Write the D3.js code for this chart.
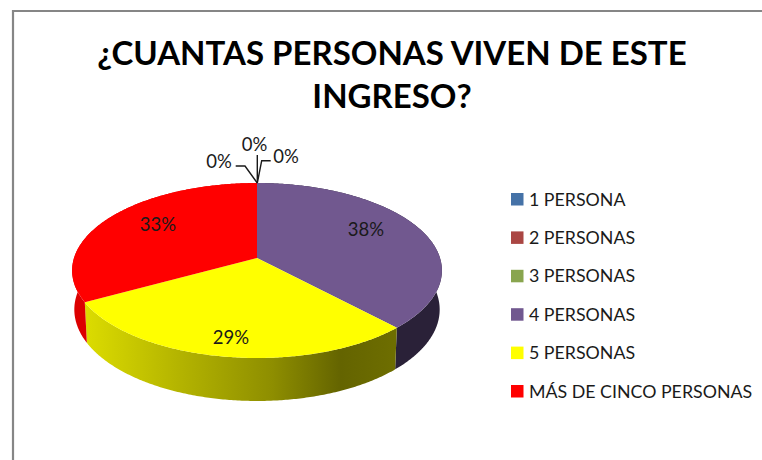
<!DOCTYPE html>
<html><head><meta charset="utf-8">
<script src="https://cdn.jsdelivr.net/npm/d3@7"></script>
<style>html,body{margin:0;padding:0;background:#fff}svg{display:block}text{font-family:Lato,"Open Sans",sans-serif}</style>
</head><body><svg id="c" width="762" height="460"></svg>
<script>
const titleLines = ["¿CUANTAS PERSONAS VIVEN DE ESTE", "INGRESO?"];
const categories = ["1 PERSONA","2 PERSONAS","3 PERSONAS","4 PERSONAS","5 PERSONAS","MÁS DE CINCO PERSONAS"];
const values = [0,0,0,38,29,33];
const colors = ["#4572a7","#aa4643","#89a54e","#71588f","#ffff00","#ff0000"];
const sideColors = ["#2a4466","#662a28","#53632f","#2a2138","url(#yellowSide)","#dc0000"];

const svg = d3.select("#c");
const defs = svg.append("defs");
const grad = defs.append("linearGradient").attr("id","yellowSide")
  .attr("gradientUnits","userSpaceOnUse").attr("x1",85).attr("x2",397).attr("y1",0).attr("y2",0);
[[0,"#dcdc00"],[0.3,"#b4b400"],[0.6,"#8e8e00"],[0.82,"#646400"],[1,"#6e6e00"]]
  .forEach(([o,c])=>grad.append("stop").attr("offset",o).attr("stop-color",c));

// frame
svg.append("path").attr("d","M13,460V11H762").attr("fill","none").attr("stroke","#868686").attr("stroke-width",2.2);

// title
svg.append("g").selectAll("text").data(titleLines).join("text")
  .attr("x",392).attr("y",(d,i)=>65+i*43).attr("text-anchor","middle")
  .attr("font-size",33).attr("font-weight",700).attr("fill","#000").text(d=>d);

// perspective pie projection
const hub = {x:257,y:258}, k = 1/7, a = 183, b = 85.7;
function proj(t){
  const X=Math.sin(t), Y=-Math.cos(t), w=1-k*Y;
  return {u:a*X/w, v:b*Y/w};
}
const topPt = t=>{const p=proj(t);return [hub.x+p.u, hub.y+p.v];};
const botPt = t=>{const p=proj(t);return [hub.x+p.u*0.988, hub.y+38.5+p.v*1.045];};
const line = d3.line();
const samples = (s,e)=>{const n=Math.max(2,Math.ceil((e-s)/0.01));return d3.range(n+1).map(i=>s+(e-s)*i/n);};

const arcs = d3.pie().sort(null).value(d=>d).startAngle(0).endAngle(2*Math.PI)(values);

svg.append("g").selectAll("path").data(arcs).join("path")
  .attr("d",d=>{const s=samples(d.startAngle,d.endAngle);
    return d.value? line([...s.map(topPt),...s.slice().reverse().map(botPt)])+"Z":null;})
  .attr("fill",(d,i)=>sideColors[i]);

svg.append("g").selectAll("path").data(arcs).join("path")
  .attr("d",d=>{const s=samples(d.startAngle,d.endAngle);
    return d.value? line([[hub.x,hub.y],...s.map(topPt)])+"Z":null;})
  .attr("fill",(d,i)=>colors[i]);

// percentage labels
const fmt = v=>v+"%";
const labelPos = [[219,161],[254.5,144],[286,156],[366,229],[231,337],[158,224]];
svg.append("g").selectAll("text").data(values).join("text")
  .attr("x",(d,i)=>labelPos[i][0]).attr("y",(d,i)=>labelPos[i][1]+6.5)
  .attr("text-anchor","middle").attr("font-size",18.5).attr("fill","#1a1a1a").text(fmt);

// leader lines for the empty slices
const leaders = [[[235.7,166],[245,166],[257.3,183]],[[257.3,155],[257.3,183]],[[270.7,160.7],[261.7,160.7],[257.3,183]]];
svg.append("g").selectAll("path").data(leaders).join("path")
  .attr("d",line).attr("fill","none").attr("stroke","#1a1a1a").attr("stroke-width",1.4);

// legend
const ly = d3.scalePoint().domain(categories).range([199,391]);
const lg = svg.append("g").selectAll("g").data(categories).join("g")
  .attr("transform",d=>`translate(511,${ly(d)})`);
lg.append("rect").attr("y",-6).attr("width",12.5).attr("height",12.5).attr("fill",(d,i)=>colors[i]);
lg.append("text").attr("x",18).attr("y",6.5).attr("font-size",17.8).attr("fill","#1a1a1a").text(d=>d);
</script></body></html>
